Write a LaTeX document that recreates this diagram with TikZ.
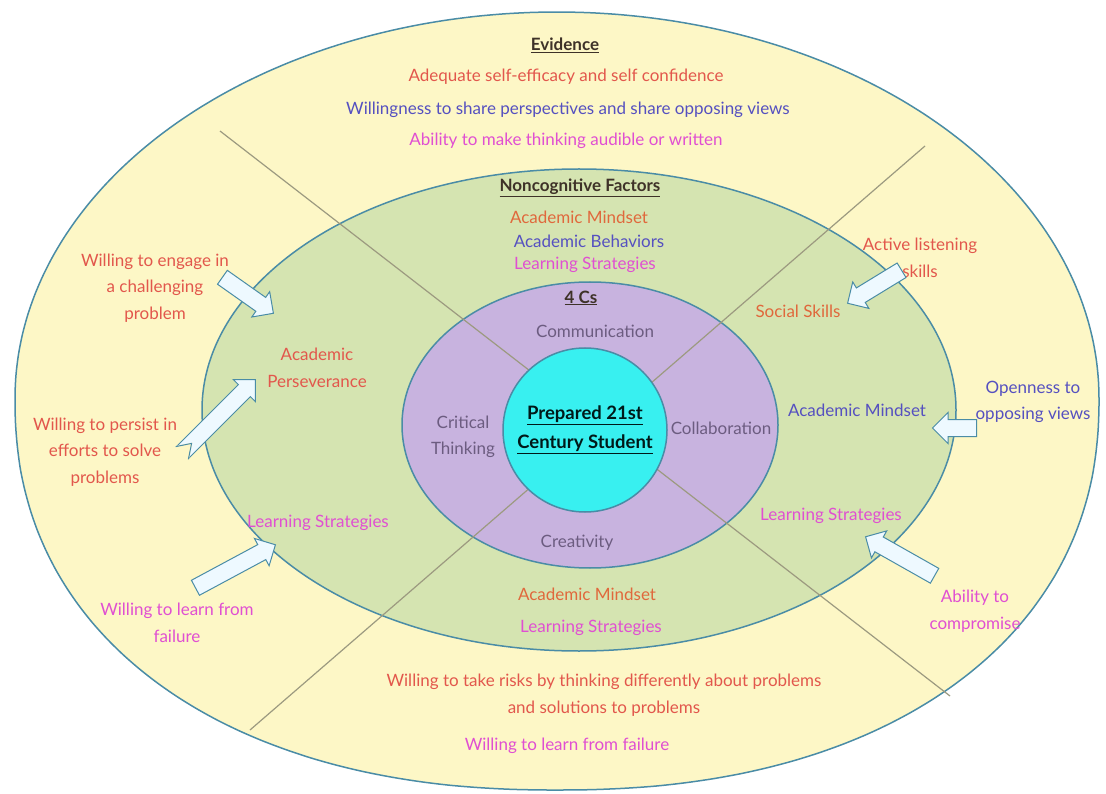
\documentclass[tikz,border=0pt]{standalone}
\usepackage{fontspec}
\setmainfont{Lato}
\usetikzlibrary{calc,shapes.arrows}

\definecolor{yellowfill}{HTML}{FDF7C6}
\definecolor{greenfill}{HTML}{D5E4B1}
\definecolor{purplefill}{HTML}{C8B3DF}
\definecolor{cyanfill}{HTML}{38F0F0}
\definecolor{ringblue}{HTML}{4A8CA6}
\definecolor{divgray}{HTML}{9C9A80}
\definecolor{redtxt}{HTML}{E2574C}
\definecolor{orangetxt}{HTML}{E0683C}
\definecolor{bluetxt}{HTML}{5550C0}
\definecolor{magtxt}{HTML}{E04FD2}
\definecolor{cstxt}{HTML}{6C5C80}
\definecolor{headtxt}{HTML}{3E3228}
\definecolor{arrowfill}{HTML}{EEF9FF}

\tikzset{
  ring/.style={draw=ringblue, line width=1.5pt},
  divide/.style={draw=divgray, line width=1.2pt},
  txt/.style={align=center, inner sep=1pt, font=\fontsize{17}{26.5}\selectfont},
  head/.style={txt, text=headtxt, font=\fontsize{17}{26.5}\selectfont\bfseries},
  bigarrow/.style={single arrow, draw=ringblue, fill=arrowfill, line width=1pt,
    inner sep=8pt, single arrow head extend=7pt, single arrow head indent=0pt}
}

\def\blockarrow[#1](#2)(#3){\path let \p1=(#2), \p2=(#3), \n1={atan2(\y2-\y1,\x2-\x1)}, \n2={veclen(\x2-\x1,\y2-\y1)} in node[bigarrow, rotate=\n1, minimum height=\n2, anchor=tail] (#1) at (\p1) {};}

\begin{document}
\begin{tikzpicture}[x=1pt, y=-1pt]
  \useasboundingbox[fill=white] (0,0) rectangle (1106,794);

  % rings (outer one is a bit fuller at the bottom)
  \draw[ring, fill=yellowfill] plot[smooth cycle, domain=0.5:357.5, samples=120]
    ({557+542*(cos(\x)<0 ? -1 : 1)*abs(cos(\x))^(sin(\x)>0 ? 0.9 : 1)},
     {398+(sin(\x)>0 ? 392 : -386)*abs(sin(\x))^(sin(\x)>0 ? 0.9 : 1)});
  \draw[ring, fill=greenfill] (579,410) ellipse [x radius=377, y radius=241];
  \draw[ring, fill=purplefill] (590,425) ellipse [x radius=188, y radius=143];

  \coordinate (ulEnd) at (220,131);
  \coordinate (lrEnd) at (950,696);
  \coordinate (urEnd) at (925,146);
  \coordinate (llEnd) at (250,730);
  \draw[divide] (ulEnd) -- (lrEnd);
  \draw[divide] (urEnd) -- (llEnd);

  \draw[ring, fill=cyanfill] (585,430) circle (82);

  % evidence
  \node[head] (evidence) at (565,45) {\underline{Evidence}};
  \node[txt, text=redtxt] (evAdeq) at (566,77) {Adequate self-efficacy and self confidence};
  \node[txt, text=bluetxt] (evShare) at (568,110) {Willingness to share perspectives and share opposing views};
  \node[txt, text=magtxt] (evAudible) at (566,141) {Ability to make thinking audible or written};

  % noncognitive factors
  \node[head] (noncog) at (580,188) {\underline{Noncognitive Factors}};
  \node[txt, text=orangetxt] (ncMindset) at (579,217) {Academic Mindset};
  \node[txt, text=bluetxt] (ncBehave) at (589,241) {Academic Behaviors};
  \node[txt, text=magtxt] (ncStrat) at (585,265) {Learning Strategies};

  % 4 Cs
  \node[head] (fourcs) at (581,298) {\underline{4 Cs}};
  \node[txt, text=cstxt] (comm) at (595,331) {Communication};
  \node[txt, text=cstxt] (crit) at (463,437) {Critical\\Thinking};
  \node[txt, text=cstxt] (collab) at (721,428) {Collaboration};
  \node[txt, text=cstxt] (creat) at (577,543) {Creativity};
  \node[head, text=black!80!teal, font=\fontsize{18.5}{29}\selectfont\bfseries] (student) at (585,430) {\underline{Prepared 21st}\\\underline{Century Student}};

  % bottom
  \node[txt, text=orangetxt] (btMindset) at (587,594) {Academic Mindset};
  \node[txt, text=magtxt] (btStrat) at (591,628) {Learning Strategies};
  \node[txt, text=redtxt] (btRisks) at (604,695) {Willing to take risks by thinking differently about problems\\and solutions to problems};
  \node[txt, text=magtxt] (btFail) at (567,746) {Willing to learn from failure};

  % left side
  \node[txt, text=redtxt] (lfEngage) at (155,288) {Willing to engage in\\a challenging\\problem};
  \node[txt, text=redtxt] (lfPersev) at (317,368) {Academic\\Perseverance};
  \node[txt, text=redtxt] (lfPersist) at (105,452) {Willing to persist in\\efforts to solve\\problems};
  \node[txt, text=magtxt] (lfStrat) at (318,523) {Learning Strategies};
  \node[txt, text=magtxt] (lfFail) at (177,623) {Willing to learn from\\failure};

  % right side
  \node[txt, text=redtxt] (rtListen) at (920,258) {Active listening\\skills};
  \node[txt, text=orangetxt] (rtSocial) at (798,311) {Social Skills};
  \node[txt, text=bluetxt] (rtMindset) at (857,410) {Academic Mindset};
  \node[txt, text=bluetxt] (rtOpen) at (1033,402) {Openness to\\opposing views};
  \node[txt, text=magtxt] (rtStrat) at (831,516) {Learning Strategies};
  \node[txt, text=magtxt] (rtComp) at (975,611) {Ability to\\compromise};

  % block arrows
  \blockarrow[aEngage](222,277)(273,313)
  \blockarrow[aPersist](182,453)(255,380)
  \blockarrow[aFail](195,588)(275,545)
  \blockarrow[aListen](902,270)(848,303)
  \blockarrow[aOpen](977,428)(933,428)
  \blockarrow[aComp](935,576)(866,537)

  % notch in the tail of the persist arrow
  \coordinate (notch) at ($(aPersist.tail)!0.13!(aPersist.tip)$);
  \filldraw[yellowfill, line width=1.2pt] (aPersist.before tail) -- (notch) -- (aPersist.after tail) -- cycle;
  \draw[ringblue, line width=1pt] (aPersist.before tail) -- (notch) -- (aPersist.after tail);
\end{tikzpicture}
\end{document}
